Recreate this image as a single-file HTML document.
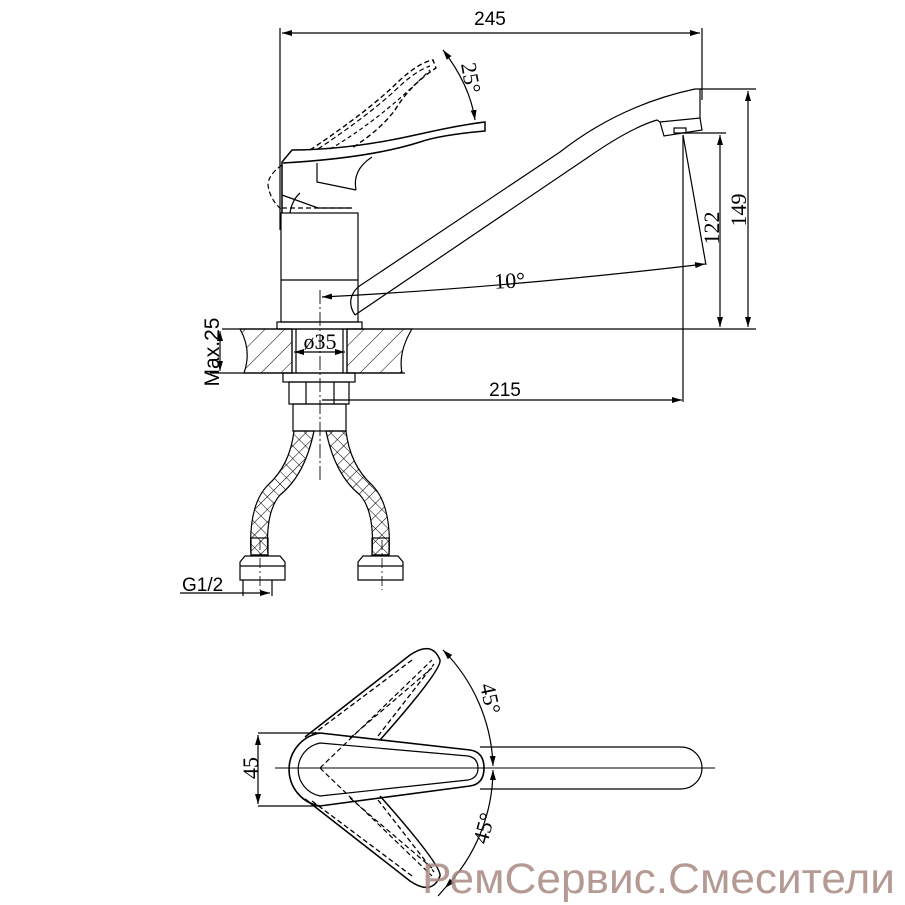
<!DOCTYPE html>
<html><head><meta charset="utf-8"><style>
html,body{margin:0;padding:0;background:#fff}
svg{display:block}
</style></head><body>
<svg width="905" height="905" viewBox="0 0 905 905" xmlns="http://www.w3.org/2000/svg">
<defs>
<marker id="a" viewBox="0 0 10 6" refX="10" refY="3" markerWidth="10" markerHeight="6" orient="auto-start-reverse" markerUnits="userSpaceOnUse"><path d="M0,0L10,3L0,6z" fill="#000"/></marker>
<pattern id="h" width="14" height="14" patternUnits="userSpaceOnUse" patternTransform="rotate(45)"><line x1="0" y1="0" x2="0" y2="14" stroke="#000" stroke-width="1"/></pattern>
<pattern id="x" width="9" height="9" patternUnits="userSpaceOnUse" patternTransform="rotate(45)"><path d="M0,0H9M0,0V9" stroke="#000" stroke-width="1.1" fill="none"/></pattern>
</defs>
<g fill="none" stroke="#000" stroke-width="1.2">
<line x1="280" y1="28" x2="280" y2="230"/>
<line x1="702" y1="28" x2="702" y2="100"/>
<line x1="282" y1="33" x2="700" y2="33" marker-start="url(#a)" marker-end="url(#a)"/>
<rect x="281" y="213" width="77" height="109"/>
<line x1="281" y1="280" x2="358" y2="280"/>
<rect x="277" y="322" width="85" height="7"/>
<path d="M282,213 L282,162 L292,150 Q350,150 420,134 Q460,125 485,122 L485,131 Q440,135 420,142 Q370,158 283,163" stroke-width="1.5"/>
<path d="M282,195 L318,208 L352,208"/>
<path d="M317,163 L317,182 L356,190"/>
<path d="M356,190 Q352,170 372,157"/>
<path d="M290,213 Q292,200 300,193"/>
<path d="M282,208 H352" stroke-dasharray="5,3"/>
<path d="M282,165 Q268,175 268,185 Q270,200 282,210" stroke-dasharray="5,3"/>
<path d="M310,150 Q370,110 400,80 Q420,62 433,60 L436,68 Q410,85 395,110 Q380,130 352,148" stroke-dasharray="5,3" stroke-width="1.4"/>
<path d="M318,149 Q372,113 402,84 Q418,70 430,66" stroke-dasharray="5,3"/>
<path d="M330,149 Q380,120 430,70" stroke-dasharray="4,3"/>
<path d="M443,50 Q470,85 475,120" marker-start="url(#a)" marker-end="url(#a)"/>
<path d="M358,287 L560,152 Q620,105 695,89 L700,89 L700,118"/>
<path d="M355,315 L587,158 Q630,128 657,120 L660,122"/>
<path d="M358,287 Q345,300 355,315"/>
<path d="M660,122 L700,118 L702,130 L664,136 Z"/>
<rect x="674" y="128" width="12" height="5"/>
<line x1="700" y1="89" x2="756" y2="89"/>
<line x1="748" y1="91" x2="748" y2="327" marker-start="url(#a)" marker-end="url(#a)"/>
<line x1="682" y1="133" x2="726" y2="133"/>
<line x1="720" y1="135" x2="720" y2="327" marker-start="url(#a)" marker-end="url(#a)"/>
<line x1="683" y1="135" x2="683" y2="402"/>
<line x1="683" y1="135" x2="706" y2="265"/>
<path d="M322,297 Q500,288 705,264" marker-start="url(#a)" marker-end="url(#a)"/>
<line x1="320" y1="290" x2="320" y2="480" stroke-dasharray="14,3,2,3" stroke-width="0.9"/>
<path d="M240,329 Q252,350 244,373 L292,373 L292,329 Z" fill="url(#h)"/>
<path d="M347,329 L347,373 L402,373 Q398,352 412,329 Z" fill="url(#h)"/>
<line x1="222" y1="329" x2="756" y2="329"/>
<line x1="210" y1="373" x2="405" y2="373"/>
<line x1="292" y1="329" x2="292" y2="373"/><line x1="296" y1="329" x2="296" y2="373"/>
<line x1="347" y1="329" x2="347" y2="373"/><line x1="343" y1="329" x2="343" y2="373"/>
<line x1="220" y1="331" x2="220" y2="371" marker-start="url(#a)" marker-end="url(#a)"/>
<line x1="294" y1="352" x2="345" y2="352" marker-start="url(#a)" marker-end="url(#a)"/>
<rect x="283" y="373" width="72" height="9"/>
<rect x="289" y="382" width="60" height="22"/>
<line x1="306" y1="382" x2="306" y2="404"/><line x1="334" y1="382" x2="334" y2="404"/>
<rect x="293" y="404" width="53" height="27"/>
<line x1="322" y1="400" x2="682" y2="400" marker-end="url(#a)"/>
<path d="M294,431 L314,431 Q305,475 280,495 Q265,512 268,555 L251,555 Q248,505 268,485 Q290,465 294,431 Z" fill="url(#x)"/>
<path d="M326,431 L346,431 Q350,465 372,485 Q392,505 389,555 L372,555 Q375,512 360,495 Q335,475 326,431 Z" fill="url(#x)"/>
<rect x="251" y="538" width="17" height="17"/><rect x="372" y="538" width="17" height="17"/>
<path d="M240,562 L245,556 L280,556 L285,562 L285,580 L240,580 Z"/>
<path d="M358,562 L363,556 L398,556 L403,562 L403,580 L358,580 Z"/>
<line x1="240" y1="566" x2="285" y2="566"/><line x1="358" y1="566" x2="403" y2="566"/>
<line x1="243" y1="580" x2="243" y2="596"/><line x1="272" y1="580" x2="272" y2="596"/>
<line x1="180" y1="593" x2="270" y2="593" marker-end="url(#a)"/>
<line x1="260" y1="540" x2="260" y2="590" stroke-dasharray="10,3,2,3" stroke-width="0.8"/>
<line x1="382" y1="540" x2="382" y2="590" stroke-dasharray="10,3,2,3" stroke-width="0.8"/>
<path d="M480,747 L681,747 A21,21 0 0 1 681,789 L480,789"/>
<line x1="275" y1="768" x2="715" y2="768" stroke-width="0.9"/>
<path d="M320,733 L470,750 Q484,752 484,768 Q484,784 470,786 L320,806 A37,37 0 0 1 320,733 Z" stroke-width="1.6"/>
<path d="M320,743 L468,756 Q478,758 478,768 Q478,778 468,780 L320,796 A27,27 0 0 1 320,743 Z"/>
<path d="M305,737 L410,655 Q432,640 440,660 Q442,670 380,740" stroke-width="1.5"/>
<path d="M305,799 L410,881 Q432,896 440,876 Q442,866 380,796" stroke-width="1.5"/>
<path d="M312,735 L412,660 M378,736 L434,664" stroke-dasharray="5,3" stroke-width="1.3"/>
<path d="M312,801 L412,876 M378,800 L434,872" stroke-dasharray="5,3" stroke-width="1.3"/>
<path d="M320,768 L432,660 M350,738 L432,668" stroke-dasharray="5,3"/>
<path d="M320,768 L432,876 M350,798 L432,868" stroke-dasharray="5,3"/>
<line x1="258" y1="733" x2="320" y2="733"/><line x1="258" y1="806" x2="320" y2="806"/>
<line x1="258" y1="735" x2="258" y2="804" marker-start="url(#a)" marker-end="url(#a)"/>
<path d="M443,650 A172,172 0 0 1 493,766" marker-start="url(#a)" marker-end="url(#a)"/>
<path d="M493,770 A172,172 0 0 1 445,888" marker-start="url(#a)" marker-end="url(#a)"/>
<line x1="445" y1="888" x2="438" y2="896"/>
</g>
<g font-family="Liberation Sans, sans-serif" font-size="19" fill="#000">
<text x="490" y="25" text-anchor="middle">245</text>
<text x="505" y="396" text-anchor="middle">215</text>
<text x="182" y="591">G1/2</text>
<text transform="translate(219,352) rotate(-90)" text-anchor="middle" font-size="21">Max.25</text>
</g>
<g font-family="Liberation Serif, serif" font-size="22" fill="#000">
<text x="320" y="349" text-anchor="middle">ø35</text>
<text x="510" y="288" text-anchor="middle" transform="rotate(-3 510 288)">10°</text>
<text transform="translate(461,64) rotate(80)">25°</text>
<text transform="translate(719,228) rotate(-90)" text-anchor="middle">122</text>
<text transform="translate(746,210) rotate(-90)" text-anchor="middle">149</text>
<text transform="translate(258,768) rotate(-90)" text-anchor="middle">45</text>
<text transform="translate(480,685) rotate(78)">45°</text>
<text transform="translate(487,845) rotate(-75)">45°</text>
</g>
<text x="422" y="893" font-family="Liberation Sans, sans-serif" font-size="43" fill="#a88880" fill-opacity="0.85" textLength="473" lengthAdjust="spacingAndGlyphs">РемСервис.Смесители</text>
</svg>
</body></html>
